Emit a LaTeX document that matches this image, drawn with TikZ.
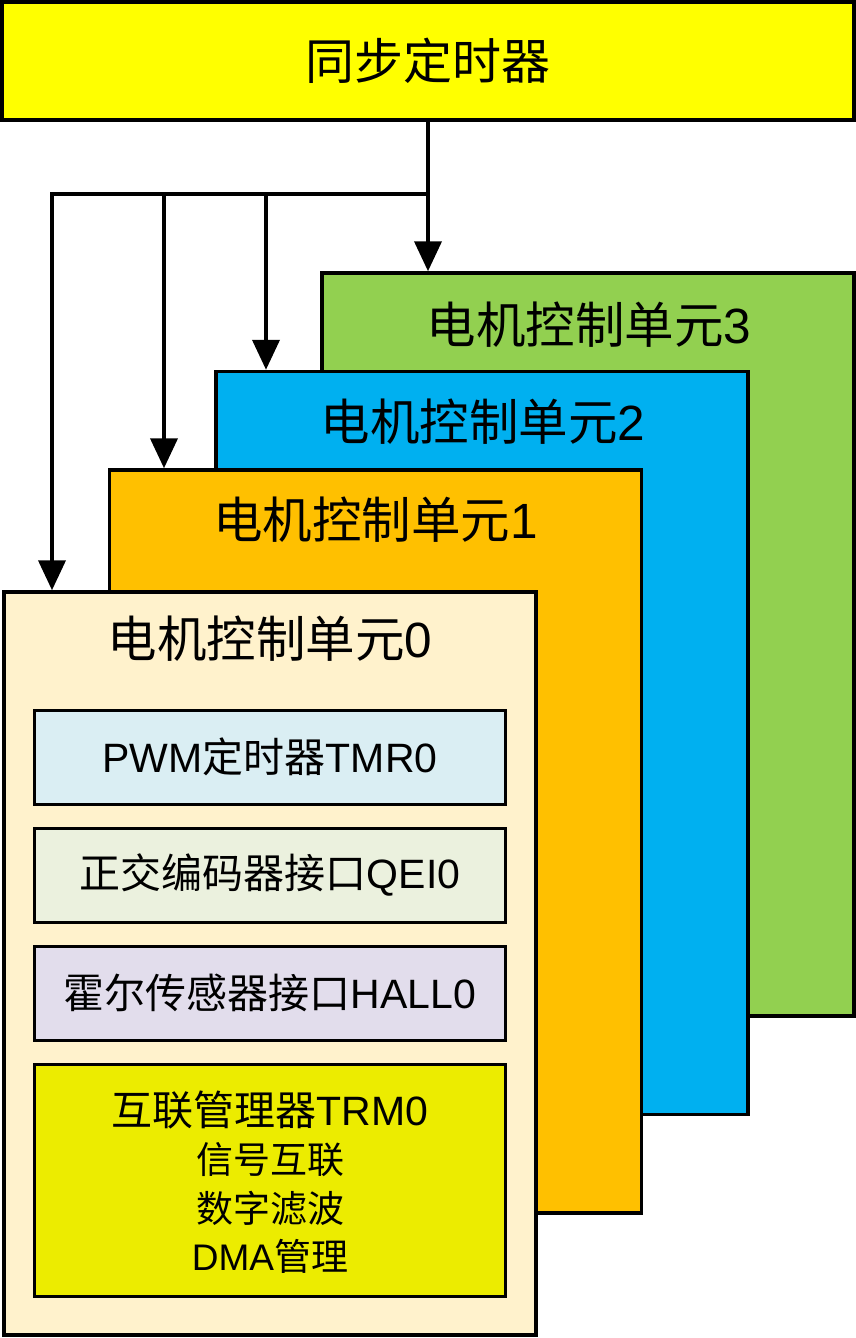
\documentclass[tikz,border=0pt]{standalone}
\usepackage{fontspec}
\setmainfont{Liberation Sans}
\newfontfamily\cjk{Noto Sans CJK SC}
\newcommand\zh[1]{{\cjk #1}}
\usetikzlibrary{arrows.meta}
\definecolor{topyellow}{RGB}{255,255,0}
\definecolor{ugreen}{RGB}{146,208,80}
\definecolor{ublue}{RGB}{0,176,240}
\definecolor{uorange}{RGB}{255,192,0}
\definecolor{ucream}{RGB}{255,242,204}
\definecolor{ipwm}{RGB}{218,238,243}
\definecolor{iqei}{RGB}{235,241,222}
\definecolor{ihall}{RGB}{226,221,236}
\definecolor{itrm}{RGB}{236,236,0}
\tikzset{
  box/.style={draw=black, line width=3.5pt, inner sep=0pt, rectangle},
  unitbox/.style={box, minimum width=532pt, minimum height=743pt},
  innerbox/.style={box, line width=3pt, minimum width=471pt, minimum height=94pt},
  unittitle/.style={inner sep=0pt, font=\fontsize{49.5}{52}\selectfont},
  innertext/.style={inner sep=0pt, font=\fontsize{41}{44}\selectfont},
  subtext/.style={inner sep=0pt, font=\fontsize{37}{40}\selectfont},
  conn/.style={line width=4pt, -{Triangle[length=30pt,width=27pt]}},
  wire/.style={line width=4pt}
}
\begin{document}
\begin{tikzpicture}[x=1pt,y=-1pt]
\useasboundingbox[fill=white] (0,0) rectangle (856,1338);
% top timer
\node[box, fill=topyellow, minimum width=852pt, minimum height=118pt] (sync) at (428,61) {};
\node[inner sep=0pt, font=\fontsize{49}{52}\selectfont] (synct) at (428,61) {\zh{同步定时器}};
% units
\node[unitbox, fill=ugreen] (u3) at (588,644.5) {};
\node[unitbox, fill=ublue] (u2) at (482,743) {};
\node[unitbox, fill=uorange] (u1) at (375.5,841.5) {};
\node[unitbox, fill=ucream] (u0) at (270,963.5) {};
\node[unittitle] (u3t) at (589,325) {\zh{电机控制单元}3};
\node[unittitle] (u2t) at (483,422) {\zh{电机控制单元}2};
\node[unittitle] (u1t) at (375.5,520) {\zh{电机控制单元}1};
\node[unittitle] (u0t) at (270,639) {\zh{电机控制单元}0};
% inner blocks
\node[innerbox, fill=ipwm] (pwm) at (270,757) {};
\node[innertext] (pwmt) at (270,757) {PWM\zh{定时器}TMR0};
\node[innerbox, fill=iqei] (qei) at (270,875) {};
\node[innertext] (qeit) at (270,875) {\zh{正交编码器接口}QEI0};
\node[innerbox, fill=ihall] (hall) at (270,993) {};
\node[innertext] (hallt) at (270,993) {\zh{霍尔传感器接口}HALL0};
\node[box, line width=3pt, fill=itrm, minimum width=471pt, minimum height=232pt] (trm) at (270,1180) {};
\node[innertext] (trm1) at (270,1110) {\zh{互联管理器}TRM0};
\node[subtext] (trm2) at (270,1160) {\zh{信号互联}};
\node[subtext] (trm3) at (270,1208) {\zh{数字滤波}};
\node[subtext] (trm4) at (270,1256) {DMA\zh{管理}};
% connectors
\coordinate (split) at (428,194);
\coordinate (b0) at (52,194);
\coordinate (b1) at (164,194);
\coordinate (b2) at (266,194);
\draw[wire] (sync.south -| split) -- (split);
\draw[conn] (split) -- (u3.north -| split);
\draw[conn] (split) -- (b0) -- (u0.north -| b0);
\draw[conn] (b1) -- (u1.north -| b1);
\draw[conn] (b2) -- (u2.north -| b2);
\end{tikzpicture}
\end{document}
